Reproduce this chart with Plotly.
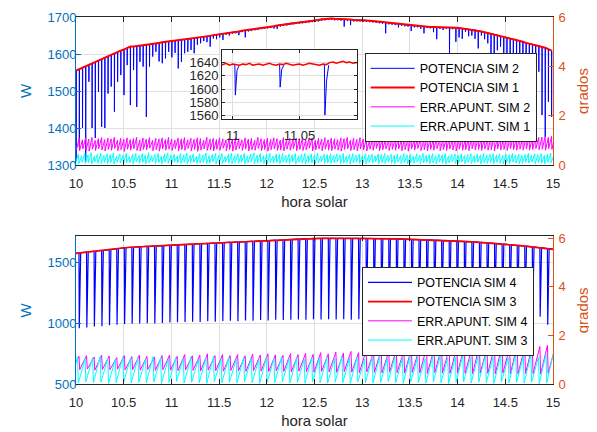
import plotly.graph_objects as go

# ---------------- DATA ----------------
# Upper panel: events every TOP_DT hours starting at TOP_T0 (solar hour)
TOP_T0 = 10.0005
TOP_DT = 0.03345
# POTENCIA SIM 1 (W) at each event time
pot_sim1 = [
    1555,1559,1563,1567,1570,1574,1578,1582,1586,1590,
    1594,1598,1601,1605,1609,1612,1617,1620,1620,1621,
    1622,1623,1624,1626,1627,1629,1630,1632,1633,1634,
    1635,1636,1637,1638,1639,1640,1641,1643,1644,1645,
    1647,1648,1649,1651,1652,1653,1655,1656,1657,1659,
    1660,1661,1663,1664,1665,1666,1668,1669,1670,1671,
    1672,1674,1675,1677,1678,1680,1681,1683,1684,1685,
    1686,1687,1688,1689,1690,1691,1692,1694,1695,1696,
    1696,1695,1695,1694,1694,1693,1693,1692,1692,1692,
    1692,1691,1690,1689,1688,1687,1686,1685,1684,1683,
    1682,1681,1680,1679,1678,1677,1676,1676,1675,1674,
    1674,1673,1673,1673,1672,1672,1672,1671,1671,1671,
    1670,1669,1668,1667,1666,1665,1663,1661,1659,1657,
    1655,1653,1651,1648,1646,1644,1642,1640,1638,1635,
    1633,1630,1628,1626,1624,1622,1619,1617,1613,1609]
# POTENCIA SIM 2 (W): minimum reached in each dip
pot_sim2_min = [
    1310,1349,1400,1309,1525,1400,1373,1498,1403,1400,
    1493,1512,1444,1525,1543,1489,1570,1462,1557,1457,
    1579,1566,1430,1566,1593,1606,1580,1575,1588,1606,
    1591,1603,1561,1579,1602,1606,1611,1602,1625,1629,
    1635,1632,1620,1642,1640,1645,1638,1652,1650,1655,
    1656,1651,1659,1645,1661,1662,1664,1665,1667,1668,
    1669,1670,1669,1668,1674,1676,1677,1679,1680,1681,
    1682,1683,1684,1685,1686,1687,1688,1690,1691,1692,
    1692,1691,1691,1690,1674,1689,1678,1688,1688,1688,
    1688,1687,1686,1685,1684,1683,1682,1656,1680,1679,
    1678,1672,1676,1675,1674,1662,1672,1672,1668,1656,
    1670,1669,1659,1640,1668,1665,1668,1598,1667,1633,
    1645,1641,1660,1648,1650,1641,1615,1650,1640,1629,
    1570,1602,1610,1620,1600,1588,1596,1590,1543,1530,
    1586,1489,1560,1453,1511,1552,1435,1376,1471,1430]
# ERR.APUNT. SIM 2 (grados): peak / trough of each cycle
err_sim2_peak = [
    1.08,1.02,1.10,1.05,1.12,1.00,1.07,1.11,1.03,1.09,
    1.06,1.12,1.01,1.08,1.04,1.10,1.03,1.07,1.12,1.02,
    1.09,1.05,1.11,1.00,1.08,1.06,1.10,1.03,1.12,1.05,
    1.01,1.09,1.06,1.11,1.02,1.08,1.04,1.10,1.07,1.00,
    1.12,1.05,1.08,1.03,1.10,1.06,1.01,1.09,1.04,1.11,
    1.07,1.02,1.10,1.05,1.08,1.00,1.12,1.06,1.03,1.09,
    1.04,1.10,1.07,1.01,1.11,1.05,1.08,1.02,1.09,1.06,
    1.12,1.03,1.07,1.10,1.00,1.08,1.05,1.11,1.02,1.09,
    1.06,1.03,1.10,1.07,1.12,1.01,1.08,1.04,1.11,1.05,
    1.09,1.02,1.07,1.12,1.04,1.10,1.06,1.01,1.09,1.05,
    1.11,1.03,1.08,1.06,1.12,1.04,1.10,1.07,1.02,1.11,
    1.08,1.05,1.12,1.03,1.09,1.06,1.13,1.04,1.10,1.07,
    1.12,1.05,1.09,1.14,1.06,1.11,1.08,1.13,1.05,1.10,
    1.15,1.07,1.12,1.09,1.14,1.08,1.13,1.10,1.15,1.09,
    1.12,1.14,1.11,1.16,1.12,1.13,1.15,1.12,1.16,1.14]
err_sim2_trough = [
    0.62,0.58,0.65,0.60,0.56,0.64,0.59,0.66,0.61,0.57,
    0.63,0.60,0.67,0.58,0.62,0.55,0.64,0.60,0.66,0.59,
    0.57,0.63,0.61,0.68,0.58,0.62,0.56,0.65,0.60,0.64,
    0.59,0.66,0.57,0.62,0.60,0.67,0.58,0.63,0.55,0.61,
    0.65,0.59,0.62,0.57,0.64,0.60,0.68,0.58,0.63,0.56,
    0.61,0.66,0.59,0.64,0.57,0.62,0.60,0.67,0.58,0.63,
    0.56,0.62,0.65,0.59,0.61,0.57,0.64,0.60,0.66,0.58,
    0.63,0.59,0.62,0.68,0.57,0.61,0.65,0.58,0.64,0.60,
    0.58,0.64,0.60,0.56,0.63,0.66,0.59,0.62,0.57,0.65,
    0.61,0.57,0.64,0.60,0.67,0.58,0.62,0.65,0.59,0.63,
    0.60,0.65,0.58,0.62,0.56,0.64,0.61,0.67,0.59,0.62,
    0.57,0.63,0.60,0.66,0.58,0.62,0.59,0.65,0.61,0.57,
    0.64,0.60,0.62,0.58,0.66,0.61,0.63,0.59,0.65,0.60,
    0.62,0.58,0.65,0.61,0.63,0.59,0.66,0.62,0.60,0.64,
    0.61,0.65,0.60,0.63,0.67,0.62,0.64,0.60,0.66,0.63]
# ERR.APUNT. SIM 1 (grados)
err_sim1_peak = [
    0.45,0.38,0.48,0.41,0.50,0.36,0.44,0.47,0.39,0.46,
    0.42,0.49,0.37,0.45,0.40,0.48,0.35,0.44,0.47,0.39,
    0.46,0.41,0.50,0.38,0.43,0.47,0.36,0.45,0.49,0.40,
    0.44,0.37,0.47,0.42,0.48,0.39,0.45,0.36,0.46,0.41,
    0.49,0.38,0.44,0.47,0.40,0.46,0.35,0.43,0.48,0.39,
    0.45,0.41,0.47,0.37,0.44,0.49,0.40,0.46,0.38,0.43,
    0.48,0.36,0.45,0.42,0.47,0.39,0.44,0.41,0.46,0.37,
    0.43,0.47,0.38,0.45,0.40,0.48,0.36,0.44,0.42,0.46,
    0.39,0.45,0.41,0.47,0.37,0.43,0.46,0.40,0.44,0.38,
    0.46,0.41,0.44,0.37,0.45,0.42,0.47,0.39,0.43,0.40,
    0.44,0.38,0.46,0.41,0.43,0.36,0.45,0.40,0.47,0.39,
    0.42,0.46,0.38,0.44,0.41,0.47,0.37,0.43,0.45,0.40,
    0.45,0.39,0.43,0.46,0.38,0.44,0.41,0.47,0.40,0.43,
    0.46,0.40,0.44,0.38,0.45,0.42,0.47,0.41,0.44,0.39,
    0.43,0.47,0.40,0.45,0.42,0.46,0.39,0.44,0.48,0.42]
err_sim1_trough = [
    0.08,0.05,0.11,0.06,0.09,0.04,0.12,0.07,0.05,0.10,
    0.06,0.09,0.04,0.11,0.07,0.05,0.10,0.08,0.04,0.12,
    0.07,0.10,0.05,0.08,0.13,0.06,0.09,0.04,0.11,0.07,
    0.05,0.12,0.08,0.06,0.10,0.04,0.09,0.11,0.06,0.08,
    0.10,0.05,0.07,0.12,0.04,0.09,0.06,0.11,0.08,0.05,
    0.09,0.06,0.11,0.04,0.08,0.12,0.05,0.07,0.10,0.06,
    0.04,0.10,0.07,0.09,0.05,0.11,0.08,0.06,0.12,0.05,
    0.11,0.07,0.05,0.10,0.08,0.04,0.09,0.12,0.06,0.08,
    0.06,0.09,0.12,0.05,0.07,0.10,0.04,0.08,0.11,0.06,
    0.08,0.04,0.10,0.07,0.12,0.05,0.09,0.06,0.11,0.07,
    0.05,0.11,0.06,0.09,0.04,0.10,0.07,0.12,0.05,0.08,
    0.10,0.06,0.08,0.05,0.11,0.07,0.04,0.09,0.12,0.06,
    0.07,0.12,0.05,0.10,0.06,0.08,0.11,0.04,0.09,0.07,
    0.09,0.05,0.11,0.07,0.04,0.10,0.06,0.12,0.08,0.05,
    0.06,0.10,0.08,0.12,0.05,0.09,0.07,0.04,0.11,0.08]

# Inset (zoom 10.99 - 11.095 h)
INSET_T0 = 10.99
INSET_DT = 0.0025
inset_pot_sim1 = [1638,1637,1639,1636,1638,1637,1636,1638,1637,1639,1636,1637,1638,1636,
                  1637,1639,1637,1636,1638,1637,1639,1638,1636,1637,1638,1636,1637,1639,
                  1638,1637,1636,1638,1637,1640,1641,1639,1640,1642,1640,1641,1639,1640,1641]
inset_dip_time = [11.002, 11.0355, 11.069]
inset_dip_min = [1591, 1603, 1561]
inset_dip_rebound = [1628, 1630, 1612]

# Lower panel: events every BOT_DT hours starting at BOT_T0
BOT_T0 = 9.952
BOT_DT = 0.0792
pot_sim3 = [1572,
    1580,1588,1595,1601,1608,1615,1623,1627,1631,1635,
    1638,1641,1644,1647,1650,1653,1656,1659,1662,1665,
    1668,1671,1674,1677,1679,1682,1685,1688,1692,1695,
    1697,1699,1700,1701,1701,1701,1700,1700,1700,1699,
    1698,1697,1696,1694,1692,1690,1687,1685,1683,1681,
    1678,1675,1671,1667,1663,1659,1654,1648,1642,1636,
    1630,1623,1616,1608]
pot_sim4_min = [960,
    960,968,975,978,985,990,995,998,1000,1003,
    1000,1005,1008,1010,1012,1015,1012,1018,1015,1020,
    1022,1018,1025,1022,1028,1025,1030,1028,1030,1032,
    1030,1035,1032,1035,1033,1035,1030,1035,1032,1035,
    1030,1033,1035,1030,1035,1032,1035,1030,1033,1035,
    1030,1035,1032,1030,1035,1032,1030,1035,1033,1030,
    1035,1056,990,990]
err_sim4_peak = [
    1.15,1.18,1.12,1.20,1.16, 1.10,1.18,1.14,1.20,1.15, 1.12,1.18,1.20,1.15,1.22,
    1.17,1.20,1.25,1.18,1.22, 1.18,1.22,1.17,1.24,1.20, 1.25,1.21,1.19,1.26,1.22,
    1.27,1.23,1.30,1.25,1.32, 1.28,1.35,1.30,1.38,1.33, 1.40,1.35,1.42,1.37,1.45,
    1.42,1.50,1.44,1.52,1.46, 1.50,1.55,1.48,1.58,1.50, 1.55,1.60,1.50,1.62,1.52,
    1.58,1.55,1.60,1.50,1.50]
err_sim4_trough = [
    0.62,0.60,0.63,0.58,0.61, 0.60,0.62,0.59,0.60,0.58, 0.61,0.57,0.60,0.58,0.56,
    0.59,0.57,0.55,0.58,0.56, 0.54,0.57,0.55,0.53,0.56, 0.54,0.52,0.55,0.53,0.51,
    0.54,0.52,0.50,0.53,0.51, 0.49,0.52,0.50,0.48,0.51, 0.49,0.47,0.50,0.48,0.46,
    0.49,0.47,0.45,0.48,0.46, 0.45,0.47,0.45,0.44,0.46, 0.45,0.43,0.46,0.44,0.43,
    0.45,0.44,0.42,0.45,0.44]
err_sim3_peak = [
    1.12,1.05,1.10,1.15,1.08, 1.02,1.12,1.06,1.10,1.04, 1.14,1.08,1.02,1.10,1.06,
    1.12,1.04,1.09,1.14,1.05, 1.10,1.03,1.12,1.07,1.02, 1.11,1.06,1.13,1.04,1.09,
    1.02,1.12,1.07,1.10,1.05, 1.14,1.08,1.12,1.04,1.10, 1.15,1.06,1.12,1.08,1.16,
    1.10,1.05,1.14,1.18,1.08, 1.12,1.20,1.10,1.15,1.22, 1.12,1.18,1.10,1.24,1.15,
    1.20,1.12,1.25,1.30,1.30]
err_sim3_trough = [
    0.08,0.05,0.10,0.06,0.09, 0.04,0.07,0.11,0.05,0.08, 0.06,0.10,0.04,0.08,0.12,
    0.05,0.09,0.07,0.04,0.10, 0.06,0.08,0.05,0.11,0.07, 0.04,0.09,0.06,0.10,0.05,
    0.08,0.04,0.11,0.07,0.05, 0.09,0.06,0.04,0.10,0.07, 0.05,0.08,0.12,0.06,0.04,
    0.09,0.07,0.05,0.10,0.06, 0.04,0.08,0.11,0.05,0.09, 0.07,0.04,0.10,0.06,0.08,
    0.05,0.09,0.03,0.07,0.10]

X_TICKS = [10, 10.5, 11, 11.5, 12, 12.5, 13, 13.5, 14, 14.5, 15]
TOP_W_TICKS = [1300, 1400, 1500, 1600, 1700]
BOT_W_TICKS = [500, 1000, 1500]
GRADOS_TICKS = [0, 2, 4, 6]
INSET_Y_TICKS = [1560, 1580, 1600, 1620, 1640]
INSET_X_TICKS = [11, 11.05]

# ---------------- BUILD ----------------
FONT = "Liberation Sans, Arial, Helvetica, sans-serif"
BLUE_AX = "#0072BD"
ORANGE_AX = "#D95319"
DARK = "#262626"
GRID = "#DFDFDF"

def grid_times(t0, dt, n):
    return [t0 + dt * k for k in range(n)]

def dip_line(times, base, mins, w_down, w_up):
    xs, ys = [], []
    for t, b, m in zip(times, base, mins):
        xs += [t, t + w_down, t + w_down + w_up]
        ys += [b, m, b]
    return xs, ys

def saw_line(times, dt, troughs, peaks, shift):
    xs, ys = [], []
    for t, tr, pk in zip(times, troughs, peaks):
        xs += [t + shift + 0.1 * dt, t + shift + dt]
        ys += [tr, pk]
    return xs, ys

top_t = grid_times(TOP_T0, TOP_DT, len(pot_sim1))
bot_t = grid_times(BOT_T0, BOT_DT, len(pot_sim3))
ins_t = grid_times(INSET_T0, INSET_DT, len(inset_pot_sim1))

fig = go.Figure()

# --- top panel ---
bx, by = dip_line(top_t, pot_sim1, pot_sim2_min, 0.0008, 0.0022)
fig.add_trace(go.Scatter(x=bx, y=by, mode="lines", name="POTENCIA SIM 2",
                         line=dict(color="#0000FF", width=1), xaxis="x", yaxis="y", legend="legend"))
fig.add_trace(go.Scatter(x=top_t, y=pot_sim1, mode="lines", name="POTENCIA SIM 1",
                         line=dict(color="#FF0000", width=2), xaxis="x", yaxis="y", legend="legend"))
mx, my = saw_line(top_t, TOP_DT, err_sim2_trough, err_sim2_peak, 0.0)
fig.add_trace(go.Scatter(x=mx, y=my, mode="lines", name="ERR.APUNT. SIM 2",
                         line=dict(color="#FF00FF", width=1), xaxis="x", yaxis="y2", legend="legend"))
cx, cy = saw_line(top_t, TOP_DT, err_sim1_trough, err_sim1_peak, -0.008)
fig.add_trace(go.Scatter(x=cx, y=cy, mode="lines", name="ERR.APUNT. SIM 1",
                         line=dict(color="#00FFFF", width=1), xaxis="x", yaxis="y2", legend="legend"))

# --- bottom panel ---
bx, by = dip_line(bot_t, pot_sim3, pot_sim4_min, 0.003, 0.015)
fig.add_trace(go.Scatter(x=bx, y=by, mode="lines", name="POTENCIA SIM 4",
                         line=dict(color="#0000FF", width=1.2), xaxis="x2", yaxis="y3", legend="legend2"))
fig.add_trace(go.Scatter(x=bot_t, y=pot_sim3, mode="lines", name="POTENCIA SIM 3",
                         line=dict(color="#FF0000", width=1.6), xaxis="x2", yaxis="y3", legend="legend2"))
mx, my = saw_line(bot_t, BOT_DT, err_sim4_trough, err_sim4_peak, 0.0)
fig.add_trace(go.Scatter(x=mx, y=my, mode="lines", name="ERR.APUNT. SIM 4",
                         line=dict(color="#FF00FF", width=1), xaxis="x2", yaxis="y4", legend="legend2"))
cx, cy = saw_line(bot_t, BOT_DT, err_sim3_trough, err_sim3_peak, -0.015)
fig.add_trace(go.Scatter(x=cx, y=cy, mode="lines", name="ERR.APUNT. SIM 3",
                         line=dict(color="#00FFFF", width=1), xaxis="x2", yaxis="y4", legend="legend2"))

# --- inset ---
ix, iy = [], []
for t, m, r in zip(inset_dip_time, inset_dip_min, inset_dip_rebound):
    ix += [t - 0.0004, t, t + 0.0012, t + 0.0028, None]
    iy += [1637, m, r, 1636, None]
fig.add_trace(go.Scatter(x=ix, y=iy, mode="lines", showlegend=False,
                         line=dict(color="#0000FF", width=1), xaxis="x3", yaxis="y5"))
fig.add_trace(go.Scatter(x=ins_t, y=inset_pot_sim1, mode="lines", showlegend=False,
                         line=dict(color="#FF0000", width=1.5), xaxis="x3", yaxis="y5"))

# page body has an 8px margin; lay out in window pixels
OFF = 8
W, H = 597 - OFF, 432 - OFF
def fx(p): return (p - OFF) / W
def fy(p): return 1 - (p - OFF) / H

XMAIN = [fx(76), fx(553)]
TOPY = [fy(165), fy(17)]
BOTY = [fy(384.3), fy(236.3)]
INSX_RANGE = [10.992, 11.093]
INSY_RANGE = [1555, 1659]

tickfont = dict(family=FONT, size=13, color=DARK)
xcommon = dict(range=[10, 15], tickvals=X_TICKS, ticktext=[f"{v:g}" for v in X_TICKS],
               showgrid=True, gridcolor=GRID, gridwidth=1, zeroline=False, automargin=False,
               showline=True, linecolor=DARK, linewidth=1, mirror="ticks",
               ticks="inside", ticklen=5, tickcolor=DARK, tickfont=tickfont, ticklabelstandoff=6,
               title=dict(text="hora solar", font=dict(family=FONT, size=15, color=DARK), standoff=6))
yleft = dict(showgrid=True, gridcolor=GRID, zeroline=False, showline=True, linecolor=BLUE_AX,
             linewidth=1, ticks="inside", ticklen=5, tickcolor=BLUE_AX, automargin=False,
             tickfont=dict(family=FONT, size=13, color=BLUE_AX), ticklabelstandoff=-4,
             title=dict(text="W", font=dict(family=FONT, size=15, color=BLUE_AX), standoff=12))
yright = dict(showgrid=False, zeroline=False, showline=True, linecolor=ORANGE_AX, linewidth=1,
              ticks="inside", ticklen=5, tickcolor=ORANGE_AX, side="right", automargin=False,
              tickvals=GRADOS_TICKS, tickfont=dict(family=FONT, size=13, color=ORANGE_AX),
              ticklabelstandoff=2,
              title=dict(text="grados", font=dict(family=FONT, size=15, color=ORANGE_AX), standoff=12))

legend_common = dict(bgcolor="white", bordercolor=DARK, borderwidth=1,
                     font=dict(family=FONT, size=12.5, color="black"),
                     xanchor="left", yanchor="top", itemwidth=44, tracegroupgap=0)

fig.update_layout(
    width=W, height=H, autosize=False,
    margin=dict(l=0, r=0, t=0, b=0),
    paper_bgcolor="white", plot_bgcolor="white",
    font=dict(family=FONT, color=DARK),
    xaxis=dict(domain=XMAIN, anchor="y", **xcommon),
    yaxis=dict(domain=TOPY, anchor="x", range=[1300, 1700], tickvals=TOP_W_TICKS, **yleft),
    yaxis2=dict(overlaying="y", anchor="x", range=[0, 6], **yright),
    xaxis2=dict(domain=XMAIN, anchor="y3", **xcommon),
    yaxis3=dict(domain=BOTY, anchor="x2", range=[500, 1717], tickvals=BOT_W_TICKS, **yleft),
    yaxis4=dict(overlaying="y3", anchor="x2", range=[0, 6.08], **yright),
    xaxis3=dict(domain=[fx(222), fx(357)], anchor="y5", range=INSX_RANGE, automargin=False,
                tickvals=INSET_X_TICKS, ticktext=["11", "11.05"], ticklabelstandoff=4,
                showgrid=True, gridcolor=GRID, zeroline=False, showline=True, linecolor=DARK,
                linewidth=1, mirror="ticks", ticks="inside", ticklen=3, tickcolor=DARK, tickfont=tickfont),
    yaxis5=dict(domain=[fy(119), fy(50)], anchor="x3", range=INSY_RANGE, tickvals=INSET_Y_TICKS,
                automargin=False,
                showgrid=True, gridcolor=GRID, zeroline=False, showline=True, linecolor=DARK,
                linewidth=1, mirror="ticks", ticks="inside", ticklen=3, tickcolor=DARK, tickfont=tickfont),
    legend=dict(x=fx(364.7), y=fy(52.7), **legend_common),
    legend2=dict(x=fx(362), y=fy(266.7), **legend_common),
    shapes=[dict(type="rect", xref="x3", yref="y5", x0=INSX_RANGE[0], x1=INSX_RANGE[1],
                 y0=INSY_RANGE[0], y1=INSY_RANGE[1], fillcolor="white",
                 line=dict(width=0), layer="below")],
)

fig.write_html("out.html")
